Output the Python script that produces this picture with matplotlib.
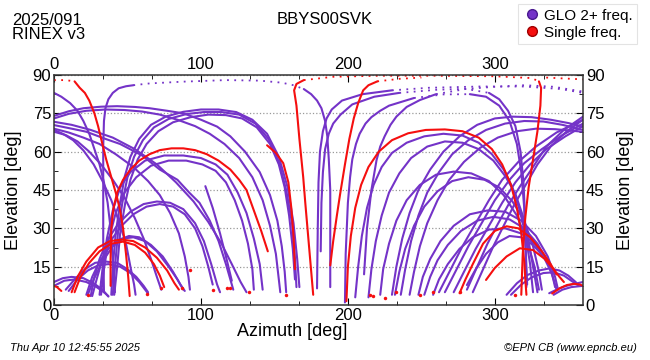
import matplotlib
matplotlib.use("Agg")
import matplotlib.pyplot as plt
from matplotlib.lines import Line2D
from matplotlib.ticker import MultipleLocator

plt.rcParams['font.family'] = ['Liberation Sans', 'DejaVu Sans']

# satellite tracks, (azimuth deg, elevation deg)

# GLONASS multi-freq tracks, low passes on the left
glo_low_left = [
    [(0, 9), (6, 10.5), (12, 11), (20, 10.5), (27, 8.5), (33, 6), (37, 3.3)],
    [(0, 7.5), (7, 9.5), (14, 10), (22, 9), (29, 7), (34, 5), (37, 3.5)],
    [(8, 6), (14, 10), (21, 14), (28, 16.5), (35, 17), (43, 16.5), (50, 14), (56, 11), (61, 7.5), (64, 5)],
    [(10, 5.5), (16, 10), (23, 13.5), (30, 15.5), (37, 16), (45, 15), (52, 12.5), (58, 9), (62, 6), (64, 4.5)],
    [(22, 4), (26, 11), (31, 17), (37, 22), (44, 25.5), (51, 27), (58, 26.5), (66, 23.5), (74, 19), (81, 13), (86, 8), (89, 5.5)],
    [(23, 4), (27, 10), (33, 17), (40, 23), (47, 26), (54, 26.5), (62, 25), (70, 21), (78, 15), (84, 10), (88, 6)],
    [(25, 3.5), (27, 10), (31, 18), (37, 26), (44, 32), (52, 36.5), (61, 39.5), (70, 40.5), (79, 40), (88, 37.5),
     (96, 32), (102, 25), (107, 16), (111, 8), (113, 5)],
    [(26, 3.5), (29, 10), (33, 18), (39, 25.5), (46, 31), (54, 35.5), (63, 38.5), (72, 39.5), (81, 38.5), (89, 35.5),
     (96, 30), (101, 23), (105, 15), (108, 8)],
]

# GLONASS tracks, high passes on the left
glo_high_left = [
    [(31, 4), (33, 14), (36, 26), (40, 37), (45, 46), (52, 52), (62, 56.5), (75, 58.5), (88, 58.5), (100, 57.5),
     (110, 55), (118, 51), (125, 44), (131, 36), (136, 26), (140, 16), (142, 6)],
    [(32, 4), (34, 14), (37, 25), (42, 36), (48, 44), (56, 50), (66, 54.5), (78, 56.5), (90, 56.5), (101, 55),
     (110, 52.5), (117, 48), (123, 41), (128, 33), (132, 24), (135, 14), (136, 6)],
    [(103, 46.5), (108, 38), (113, 28), (117, 19), (121, 9.5)],
    [(39, 4), (40, 15), (42, 28), (45, 40), (48, 50), (52, 58), (58, 65), (66, 70.5), (76, 73.7), (88, 75.6),
     (100, 76.5), (112, 76.5), (124, 75.5), (135, 72.5), (145, 67), (153, 58), (159, 46), (163, 32), (165.5, 18), (167, 7)],
    [(40, 4), (41.5, 15), (43.5, 28), (46.5, 40), (50, 50), (54.5, 58), (60.5, 64.5), (68, 69.5), (78, 72.8),
     (90, 74.7), (102, 75.5), (114, 75.5), (126, 74.5), (137, 71), (146, 65), (153, 56), (158, 45), (162, 32),
     (164, 18), (165, 7)],
    [(41, 4), (43, 15), (45, 28), (48.5, 40), (52, 49), (57, 57), (63, 63), (71, 68), (81, 71.5), (93, 73.5),
     (105, 74.5), (117, 74.3), (128, 73), (138, 69.5), (147, 63), (153, 55), (157, 46), (160, 35), (162.5, 22), (164, 10)],
    [(0, 74), (10, 75.8), (20, 77), (32, 77.6), (43, 77.8), (55, 77.5), (65, 77), (77, 76), (88, 75), (100, 72.5),
     (111, 69.8), (120, 66), (130, 60), (140, 52), (147, 43), (152, 33), (155, 23), (157, 13), (158, 5)],
    [(0, 73), (10, 74.8), (22, 76), (35, 76.5), (48, 76.3), (60, 75.7), (72, 74.5), (84, 72.5), (96, 70),
     (106, 67), (116, 63), (126, 57.5), (135, 50), (142, 41), (147, 31), (151, 20), (153, 10), (154, 5)],
    [(0, 83), (5, 81.5), (11, 79), (16, 76), (20, 72), (24, 67), (27.5, 61), (31, 55), (34, 48), (36.5, 40),
     (38.5, 30), (40, 18), (41, 8), (41.5, 5)],
    [(0, 71.7), (12, 70.5), (25, 68.5), (40, 65.5), (55, 61), (70, 55), (83, 48), (95, 40.5), (105, 32.5),
     (114, 24), (121, 16), (127, 9), (131, 5)],
    [(0, 70.4), (12, 69), (22, 67.8), (35, 65), (45, 63), (60, 58.5), (72, 53), (84, 49), (92, 44), (99, 40),
     (106, 33), (112, 25), (117, 16), (120, 10), (122, 6)],
    [(0, 69), (10, 67.5), (20, 65.5), (31, 63), (42, 59), (54, 54), (64, 48.5), (72, 43), (79, 36), (85, 28),
     (89, 19), (91.5, 11), (92.5, 6)],
    [(0, 67.8), (8, 66.5), (16, 64), (24, 60), (32, 55), (40, 49), (48, 42), (55, 34), (61, 26), (66, 18),
     (70, 11), (73, 6)],
    [(0, 68.5), (6, 67), (13, 64.5), (20, 60.5), (27, 55), (33, 48.5), (39, 41), (44, 33), (49, 24), (52, 15),
     (54.5, 8), (55.5, 4)],
]

# GLONASS passes close to the zenith: solid parts and sparse (dotted) parts
glo_zenith = [
    [(34, 5), (33.5, 25), (33.5, 45), (33.5, 62), (34, 72), (35, 77), (37, 80.5), (40, 83), (44, 84.8), (49, 85.6), (54, 86)],
    [(170, 84.5), (175, 82.5), (179, 80), (182, 77), (184.5, 72), (186, 66), (187, 57), (188, 45), (188, 25), (188, 7)],
    [(179, 6.5), (179.5, 30), (180, 48), (181, 60), (183, 68), (185.5, 73), (189, 76.5), (196, 80), (210, 82.5), (230, 84)],
    [(181.5, 21), (182, 40), (183, 52), (184.5, 61), (187, 67), (190, 71), (195, 74.5), (203, 78.5), (218, 81.5), (235, 83)],
    [(296, 83), (303, 80.5), (309, 76), (314, 70), (317.5, 60), (319.5, 48), (320.5, 35), (321, 20), (321.5, 7)],
    [(198, 1), (198.5, 20), (200, 40), (201.5, 50), (203, 57), (205.5, 63), (208, 67), (212, 71), (216, 73.5),
     (222, 76), (228, 78), (245, 81)],
    [(283, 82.5), (294, 81.5), (303, 78), (310, 72), (315, 63), (318, 52), (320, 38), (321, 22), (322, 8)],
    [(211, 12), (213, 30), (216, 45), (219.5, 56.7), (222, 62), (225, 66), (229, 70.5), (233, 73.7), (240, 77.5),
     (249, 80.2), (260, 82.5)],
]
glo_zenith_dots = [
    [(54, 86), (65, 86.7), (88, 87.4), (117, 88), (140, 87.8), (155, 87), (163, 86), (170, 84.5)],
    [(230, 84), (255, 85), (290, 85.5), (320, 85.5), (345, 84.5), (360, 83)],
    [(235, 83), (260, 84.2), (280, 84.6), (296, 83)],
    [(245, 81), (265, 82.4), (283, 82.5)],
    [(260, 82.5), (280, 84.5), (300, 85.4), (320, 86), (340, 85.4), (360, 83.5)],
]

# GLONASS tracks on the right half
glo_right = [
    [(205, 3), (207, 15), (209.5, 27), (213, 38), (217.5, 47), (223, 54), (230, 59.5), (240, 63.5), (252, 66),
     (265, 67), (278, 66.3), (289, 63.5), (298, 59), (306, 53), (312, 46), (317, 37), (321, 27), (324, 16), (326, 5)],
    [(214, 3), (216, 14), (219, 25), (223, 35), (228, 44), (235, 51.5), (243, 57.5), (254, 62), (266, 64),
     (278, 63.5), (289, 61), (299, 56.5), (307, 50.5), (314, 43.5), (319, 35), (323, 25), (326, 15), (329, 5)],
    [(222, 4), (224, 14), (228, 24), (233, 33), (240, 41), (249, 47), (260, 51), (272, 52.2), (284, 51.5),
     (296, 48.5), (306, 43), (315, 35), (322, 25), (327, 15), (330, 6)],
    [(232, 4), (235, 13), (239, 22), (245, 31), (252, 38.5), (261, 44.5), (271, 48.5), (282, 50), (293, 49),
     (303, 46), (312, 40.5), (320, 33), (326, 23), (330, 13), (332, 6)],
    [(248, 4), (251, 11), (256, 18), (263, 25), (272, 31), (283, 35.5), (295, 37), (307, 36.5), (318, 33),
     (328, 27), (336, 19), (341, 11), (343, 6)],
    [(252, 4), (256, 11), (261, 17.5), (268, 23.5), (277, 29), (288, 33), (299, 34.5), (310, 33.5), (320, 30),
     (329, 24), (336, 17), (340, 10), (342, 6)],
    [(258, 4), (262, 10), (268, 16), (276, 22), (285, 26.5), (296, 29.5), (307, 30), (318, 28), (327, 24),
     (334, 18), (339, 12), (341, 7)],
    [(281, 7.8), (287, 14), (294, 20), (302, 24.5), (310, 27), (318, 26.5), (326, 23.5), (333, 19), (338, 15), (342, 12)],
    [(308, 4), (315, 8.5), (322, 11.7), (330, 13.5), (337, 14.3), (344, 13.5), (350, 11.5), (355, 9), (357, 7.5)],
    [(311, 4), (318, 8), (325, 10.8), (333, 12.5), (340, 12.8), (347, 11.5), (352, 9.5), (356, 8)],
    [(337, 4.6), (342, 6), (347, 7.2), (352, 8), (356, 8.5), (360, 9)],
    [(340, 4), (346, 6), (352, 7), (360, 7.5)],
    [(230, 4), (233, 15), (237, 26), (242, 36), (248, 45), (256, 53), (265, 60), (276, 66), (288, 70.5),
     (300, 73), (312, 73.7), (325, 73.5), (338, 72.5), (350, 71.2), (360, 69.8)],
    [(236, 4), (239, 14), (243, 25), (248, 35), (254, 44), (262, 52), (271, 59), (282, 64.5), (294, 68.5),
     (307, 71), (320, 72), (333, 71.8), (346, 70.5), (360, 68.5)],
    [(242, 4), (245, 13), (249, 23), (254, 32), (261, 41), (269, 49), (279, 56), (290, 61.5), (302, 65.5),
     (315, 68), (328, 69), (341, 68.8), (352, 68.2), (360, 67.8)],
    [(262, 5), (270, 14), (278, 23), (287, 32), (296, 41), (305, 49), (316, 56), (328, 62), (342, 67.5), (360, 72.5)],
    [(266, 5), (274, 14), (282, 23), (291, 32), (300, 41), (310, 49), (320, 55.5), (332, 61), (346, 66.5), (360, 71)],
    [(272, 5), (279, 13), (287, 22), (296, 31), (305, 40), (314, 48), (324, 55), (335, 61), (348, 66), (360, 70)],
    [(281, 6), (288, 15), (295, 24), (301, 30.6), (309, 39), (317, 46.3), (326, 54), (335, 62), (347, 68.5), (360, 73.7)],
    [(285, 5), (292, 14), (299, 23), (306, 31), (313, 39), (321, 47), (329, 55), (338, 62), (349, 68), (360, 72.5)],
]

# single-frequency tracks
single_tracks = [
    [(14, 87.5), (17.5, 85), (21, 83), (24, 80), (27.5, 75), (30, 70), (32.5, 64), (35.5, 57), (39, 50),
     (42.5, 43), (45, 37), (47, 30), (49, 20), (50.5, 11), (51.5, 3.5)],
    [(38.5, 7.5), (38.5, 18), (39, 30), (40.5, 38), (43, 44), (47, 49), (52, 53), (58, 56.5), (65, 59), (72, 60.6),
     (80, 61.3), (88, 61.3), (96, 60.6), (104, 59), (112, 56.5), (120, 53), (126, 49), (131, 45), (136, 37),
     (141, 29), (145.5, 21)],
    [(145, 62.5), (151, 59.5), (156, 55.5), (159.5, 48), (161.5, 38), (163, 27), (164, 14)],
    [(176.4, 4), (174, 20), (171, 40), (169.6, 50), (167, 65), (165, 78), (163.4, 84), (165, 86.5), (170, 88)],
    [(330, 87.5), (331.5, 85), (331, 78), (329, 68), (326, 57), (323, 46), (320.5, 33), (319, 20), (318, 4)],
    [(188, 15.5), (190, 25), (192.5, 35), (194.6, 43), (198, 55), (201, 65), (204, 73), (207, 79), (210.4, 84),
     (214, 86), (220, 87.5)],
    [(199, 1.5), (200, 15), (202, 27), (205, 38), (209, 47), (214, 54), (221, 60), (230, 64.5), (241, 67.2),
     (253, 68.5), (266, 68.7), (278, 68), (289, 65.5), (298, 61), (305, 55), (311, 47), (315, 38), (318, 28),
     (320, 17), (321, 8), (321.5, 4)],
    [(12, 5), (16, 11), (22, 17), (30, 22.5), (38, 25), (46, 25.6), (54, 25), (62, 22.5), (70, 18.5), (77, 13.5),
     (82, 8.5), (85, 6)],
    [(14, 5), (18, 11), (24, 16.5), (31, 21), (39, 24), (47, 24.8), (55, 23.5), (62, 20.5), (68, 16), (72, 11.5), (75, 7)],
    [(276, 4.6), (280, 10), (285, 16), (292, 24), (300, 29), (308, 30.8), (316, 30), (324, 26.5), (332, 21),
     (338, 16), (342, 12)],
    [(294, 9.8), (300, 14.5), (308, 19), (317, 22.2), (326, 21.5), (334, 18), (340, 14), (344, 11), (347, 9)],
    [(339, 4.5), (344, 6.5), (349, 7.8), (354, 8.3), (358, 8), (360, 7.5)],
    [(0, 7.5), (2, 7), (5, 5.5)],
]
single_zenith_dots = [
    [(0, 88), (8, 88), (14, 87.5)],
    [(170, 88), (190, 89.3), (220, 89.7), (260, 89.7), (300, 89.5), (325, 88.8), (330, 87.5)],
    [(220, 87.5), (235, 88.5), (250, 89)],
    [(335, 89), (345, 88.7), (360, 88.3)],
]
# last epochs of GLONASS tracks that were single frequency
single_tips_az = [23, 63, 73, 87, 92.5, 108, 117.5, 120, 133, 158, 215, 217, 225, 233, 249, 258, 276, 313.6]
single_tips_el = [4, 4.5, 6.5, 6.5, 13.7, 6, 6.5, 6.5, 5, 4, 4, 3.5, 2.6, 5.2, 4, 5, 5, 4]

purple = '#7433c8'
red = '#f50f0f'

fig = plt.figure(figsize=(6.5, 3.6), dpi=100)
ax = fig.add_axes([54 / 650, 1 - 305 / 360, 529 / 650, 230 / 360])


def draw(tracks, color, dotted=False):
    for tr in tracks:
        az = [p[0] for p in tr]
        el = [p[1] for p in tr]
        if dotted:
            ax.plot(az, el, color=color, lw=1.3, ls=(0, (1, 3)), clip_on=False)
        else:
            ax.plot(az, el, color=color, lw=1.5, solid_capstyle='round', solid_joinstyle='round')


draw(glo_low_left, purple)
draw(glo_high_left, purple)
draw(glo_zenith, purple)
draw(glo_right, purple)
draw(glo_zenith_dots, purple, dotted=True)
draw(single_tracks, red)
draw(single_zenith_dots, red, dotted=True)
ax.plot(single_tips_az, single_tips_el, 'o', color=red, ms=2.5, mew=0)

ax.set_xlim(0, 360)
ax.set_ylim(0, 90)
ax.xaxis.set_major_locator(MultipleLocator(100))
ax.xaxis.set_minor_locator(MultipleLocator(100 / 3))
ax.yaxis.set_major_locator(MultipleLocator(15))
ax.yaxis.set_minor_locator(MultipleLocator(7.5))
ax.tick_params(which='both', direction='in', top=True, right=True, labeltop=True, labelright=True,
               labelsize=12, pad=2)
ax.tick_params(which='major', length=5)
ax.tick_params(which='minor', length=3)
ax.yaxis.grid(True, ls=':', color='#999999', lw=0.9)
for s in ax.spines.values():
    s.set_linewidth(1.1)
    s.set_color('#333333')

mid_y = 0.5 * ((1 - 75 / 360) + (1 - 305 / 360))
fig.text(292 / 650, 1 - 331 / 360, 'Azimuth [deg]', ha='center', va='center', fontsize=13)
fig.text(14 / 650, mid_y, 'Elevation [deg]', rotation=90, ha='center', va='center', fontsize=13)
fig.text(626 / 650, mid_y, 'Elevation [deg]', rotation=90, ha='center', va='center', fontsize=13)

fig.text(12 / 650, 1 - 13 / 360, '2025/091\nRINEX v3', ha='left', va='top', fontsize=12, linespacing=0.95)
fig.text(0.5, 1 - 20 / 360, 'BBYS00SVK', ha='center', va='center', fontsize=12)
fig.text(10 / 650, 1 - 348 / 360, 'Thu Apr 10 12:45:55 2025', ha='left', va='center', fontsize=8, style='italic')
fig.text(637 / 650, 1 - 348 / 360, '\u00a9EPN CB (www.epncb.eu)', ha='right', va='center', fontsize=8,
         style='italic')

handles = [Line2D([], [], ls='', marker='o', ms=7, color=purple, mec='#4a1a90'),
           Line2D([], [], ls='', marker='o', ms=7, color=red, mec='#a00000')]
leg = fig.legend(handles, ['GLO 2+ freq.', 'Single freq.'], loc='upper right',
                 bbox_to_anchor=(637 / 650, 1 - 4 / 360), fontsize=11, frameon=True, fancybox=False,
                 handletextpad=0.2, borderpad=0.3, labelspacing=0.2, handlelength=1.2, borderaxespad=0)
leg.get_frame().set_edgecolor('#dddddd')
leg.get_frame().set_linewidth(0.8)

fig.savefig('out.png', dpi=100)
